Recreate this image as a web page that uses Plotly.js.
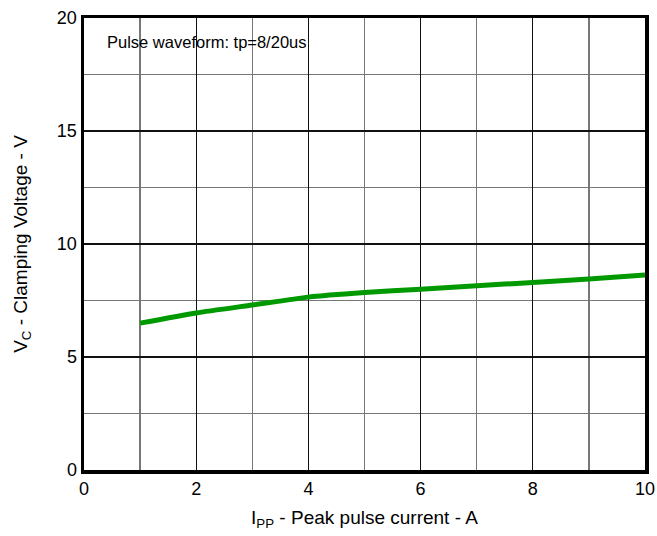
<!DOCTYPE html>
<html><head><meta charset="utf-8">
<script src="https://cdn.plot.ly/plotly-3.0.1.min.js"></script>
<style>body{margin:0;padding:0;background:#fff}#chart{width:657px;height:536px}</style>
</head><body><div id="chart"></div>
<script>
const currentA = [1, 2, 3, 4, 5, 6, 7, 8, 9, 10];
const clampV = [6.5, 6.95, 7.3, 7.65, 7.85, 8.0, 8.15, 8.3, 8.45, 8.63];
const xTicks = [0, 2, 4, 6, 8, 10];
const yTicks = [0, 5, 10, 15, 20];
const noteText = "Pulse waveform: tp=8/20us";

const font = {family: "Liberation Sans, Arial, sans-serif", color: "#000"};

Plotly.newPlot("chart", [{
  x: currentA, y: clampV, type: "scatter", mode: "lines",
  line: {color: "#009a00", width: 5, shape: "spline", smoothing: 0.6},
  hoverinfo: "skip", showlegend: false
}], {
  width: 657, height: 536,
  margin: {l: 84, r: 12, t: 18, b: 66},
  paper_bgcolor: "#fff", plot_bgcolor: "#fff",
  font: Object.assign({size: 18}, font),
  xaxis: {
    range: [0, 10], tickvals: xTicks, ticks: "", showgrid: true, gridcolor: "#111", gridwidth: 1.3,
    minor: {dtick: 1, showgrid: true, gridcolor: "#777", gridwidth: 1.3},
    showline: true, mirror: true, linecolor: "#000", linewidth: 3.5, zeroline: false,
    tickfont: Object.assign({size: 18}, font),
    title: {text: "I<sub>PP</sub> - Peak pulse current - A", font: Object.assign({size: 19}, font), standoff: 13}
  },
  yaxis: {
    range: [0, 20], tickvals: yTicks, ticks: "", showgrid: true, gridcolor: "#111", gridwidth: 1.3,
    minor: {dtick: 2.5, showgrid: true, gridcolor: "#777", gridwidth: 1.3},
    showline: true, mirror: true, linecolor: "#000", linewidth: 3.5, zeroline: false,
    tickfont: Object.assign({size: 18}, font),
    title: {text: "V<sub>C</sub> - Clamping Voltage - V", font: Object.assign({size: 19}, font), standoff: 25}
  },
  annotations: [{
    text: noteText, xref: "paper", yref: "paper", x: 0.037, y: 0.947,
    xanchor: "left", yanchor: "middle", showarrow: false,
    font: Object.assign({size: 16.5}, font)
  }]
}, {displayModeBar: false, staticPlot: true});
</script></body></html>
